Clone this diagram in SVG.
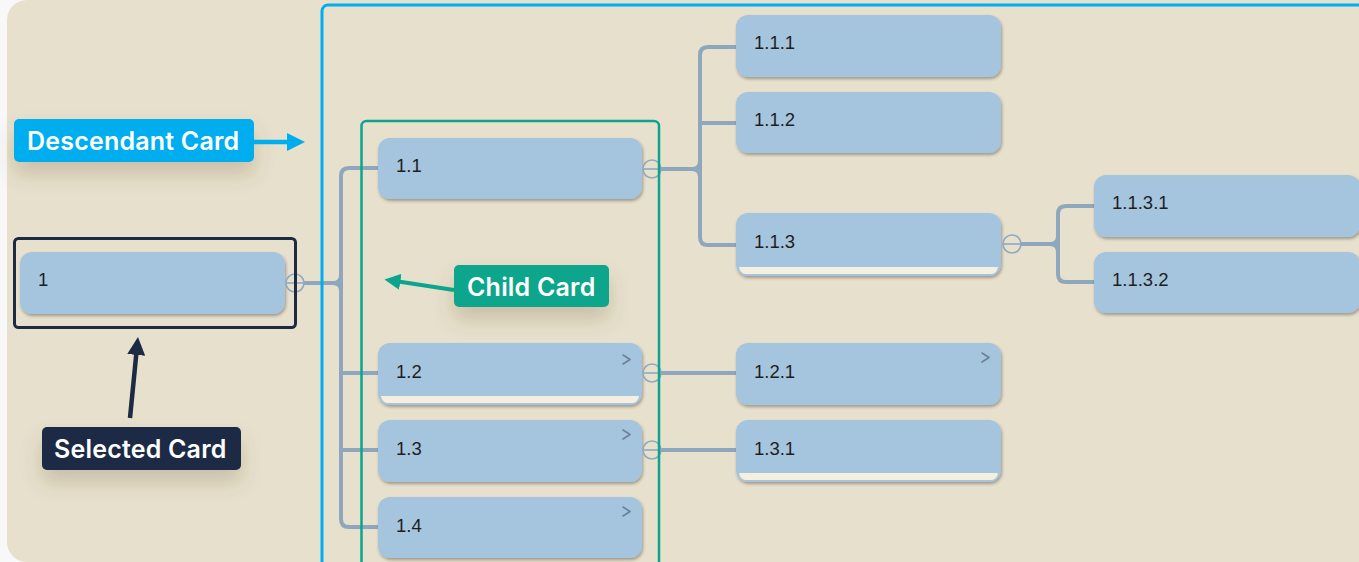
<svg xmlns="http://www.w3.org/2000/svg" width="1359" height="562" viewBox="0 0 1359 562">
<style>
.card{fill:#a5c4de;filter:url(#cs)}
.ct{font-family:"Liberation Sans",Arial,sans-serif;font-size:18.5px;fill:#1e1e1e}
.strip{fill:#f4efdf}
.chev{fill:none;stroke:#6d8196;stroke-width:1.6;stroke-linecap:round;stroke-linejoin:round}
.con{fill:none;stroke:#8fa7bd;stroke-width:4;stroke-linecap:butt}
.tog{fill:#e7e0cd;stroke:#8fa9c1;stroke-width:1.6}
.togl{stroke:#8fa9c1;stroke-width:1.6}
.lt{font-family:Inter,"Liberation Sans",Arial,sans-serif;font-weight:600;font-size:25px;letter-spacing:0.2px;fill:#ffffff}
</style>
<defs>
<filter id="cs" x="-10%" y="-20%" width="120%" height="150%">
<feDropShadow dx="1" dy="2" stdDeviation="1.7" flood-color="#3b3222" flood-opacity="0.4"/>
</filter>
<filter id="ls" x="-30%" y="-60%" width="160%" height="280%">
<feDropShadow dx="0" dy="12" stdDeviation="10" flood-color="#5a4a2a" flood-opacity="0.22"/>
</filter>
<marker id="ab" viewBox="0 0 18 18" markerWidth="18" markerHeight="18" markerUnits="userSpaceOnUse" refX="6" refY="9" orient="auto"><path d="M0,0 L18,9 L0,18 Z" fill="#00aeef"/></marker>
<marker id="an" viewBox="0 0 18 18" markerWidth="18" markerHeight="18" markerUnits="userSpaceOnUse" refX="6" refY="9" orient="auto"><path d="M0,0 L18,9 L0,18 Z" fill="#1d2a44"/></marker>
<marker id="ag" viewBox="0 0 18 18" markerWidth="16" markerHeight="16" markerUnits="userSpaceOnUse" refX="6" refY="9" orient="auto"><path d="M0,0 L18,9 L0,18 Z" fill="#0aa58c"/></marker>
</defs>
<rect x="0" y="0" width="1359" height="562" fill="#f8f8f8"/>
<rect x="7" y="0" width="1420" height="562" rx="20" fill="#e7e0cd"/>

<g id="connectors">
<path class="con" d="M303,283 H333 Q341,283 341,275 M333,283 Q341,283 341,291"/>
<path class="con" d="M378,168 H349 Q341,168 341,176 V519 Q341,527 349,527 H378 M341,373 H378 M341,450 H378"/>
<path class="con" d="M661,169 H692 Q700,169 700,161 M692,169 Q700,169 700,177"/>
<path class="con" d="M736,47 H708 Q700,47 700,55 V237 Q700,245 708,245 H736 M700,123 H736"/>
<path class="con" d="M1021,244 H1050 Q1058,244 1058,236 M1050,244 Q1058,244 1058,252"/>
<path class="con" d="M1094,206 H1066 Q1058,206 1058,214 V274 Q1058,282 1066,282 H1094"/>
<path class="con" d="M661,373 H736"/>
<path class="con" d="M661,450 H736"/>
</g>

<g id="n1"><rect class="card" x="20" y="252" width="265" height="62" rx="12"/><text class="ct" x="38" y="286">1</text>
<circle class="tog" cx="295" cy="283" r="9"/><line class="togl" x1="286" y1="283" x2="304" y2="283"/></g>

<g id="n1-1"><rect class="card" x="378" y="138" width="264" height="61" rx="12"/><text class="ct" x="396" y="172">1.1</text>
<circle class="tog" cx="652" cy="169" r="9"/><line class="togl" x1="643" y1="169" x2="661" y2="169"/></g>

<g id="n1-2"><rect class="card" x="378" y="343" width="264" height="62" rx="12"/>
<path class="strip" d="M381,396 H639 Q638,402 633,403 H387 Q382,402 381,396 Z"/>
<text class="ct" x="396" y="378">1.2</text><polyline class="chev" points="623,355 630,359.5 623,364"/>
<circle class="tog" cx="652" cy="373" r="9"/><line class="togl" x1="643" y1="373" x2="661" y2="373"/></g>

<g id="n1-3"><rect class="card" x="378" y="420" width="264" height="62" rx="12"/>
<text class="ct" x="396" y="455">1.3</text><polyline class="chev" points="623,430 630,434.5 623,439"/>
<circle class="tog" cx="652" cy="450" r="9"/><line class="togl" x1="643" y1="450" x2="661" y2="450"/></g>

<g id="n1-4"><rect class="card" x="378" y="497" width="264" height="61" rx="12"/>
<text class="ct" x="396" y="532">1.4</text><polyline class="chev" points="623,507 630,511.5 623,516"/></g>

<g id="n1-1-1"><rect class="card" x="736" y="15" width="265" height="62" rx="12"/><text class="ct" x="754" y="49">1.1.1</text></g>
<g id="n1-1-2"><rect class="card" x="736" y="92" width="265" height="61" rx="12"/><text class="ct" x="754" y="126">1.1.2</text></g>
<g id="n1-1-3"><rect class="card" x="736" y="213" width="265" height="63" rx="12"/>
<path class="strip" d="M739,267 H998 Q997,273 992,274 H745 Q740,273 739,267 Z"/>
<text class="ct" x="754" y="248">1.1.3</text>
<circle class="tog" cx="1012" cy="244" r="9"/><line class="togl" x1="1003" y1="244" x2="1021" y2="244"/></g>

<g id="n1-1-3-1"><rect class="card" x="1094" y="175" width="266" height="62" rx="12"/><text class="ct" x="1112" y="209">1.1.3.1</text></g>
<g id="n1-1-3-2"><rect class="card" x="1094" y="252" width="266" height="61" rx="12"/><text class="ct" x="1112" y="286">1.1.3.2</text></g>

<g id="n1-2-1"><rect class="card" x="736" y="343" width="265" height="62" rx="12"/><text class="ct" x="754" y="378">1.2.1</text>
<polyline class="chev" points="982,353 989,357.5 982,362"/></g>

<g id="n1-3-1"><rect class="card" x="736" y="420" width="265" height="62" rx="12"/>
<path class="strip" d="M739,473 H998 Q997,479 992,480 H745 Q740,479 739,473 Z"/>
<text class="ct" x="754" y="455">1.3.1</text></g>

<g id="highlights">
<rect x="322" y="5" width="1100" height="620" rx="6" fill="none" stroke="#00aeef" stroke-width="3"/>
<rect x="361.5" y="121" width="297.5" height="500" rx="5" fill="none" stroke="#0aa58c" stroke-width="2.5"/>
<rect x="14.5" y="238.5" width="281" height="89" rx="4" fill="none" stroke="#1d2a44" stroke-width="3"/>
</g>

<g id="label-descendant">
<rect x="14" y="119" width="240" height="43" rx="5" fill="#00aeef" filter="url(#ls)"/>
<text class="lt" x="27" y="150">Descendant Card</text>
<line x1="254" y1="142" x2="293" y2="142" stroke="#00aeef" stroke-width="4.5" marker-end="url(#ab)"/>
</g>

<g id="label-selected">
<rect x="42" y="427" width="199" height="43" rx="5" fill="#1d2a44" filter="url(#ls)"/>
<text class="lt" x="54" y="458">Selected Card</text>
<line x1="130" y1="418" x2="136.8" y2="349" stroke="#1d2a44" stroke-width="4.5" marker-end="url(#an)"/>
</g>

<g id="label-child">
<rect x="454" y="265" width="155" height="42" rx="5" fill="#0aa58c" filter="url(#ls)"/>
<text class="lt" x="467" y="296">Child Card</text>
<line x1="454" y1="290" x2="395" y2="281" stroke="#0aa58c" stroke-width="4" marker-end="url(#ag)"/>
</g>
</svg>
